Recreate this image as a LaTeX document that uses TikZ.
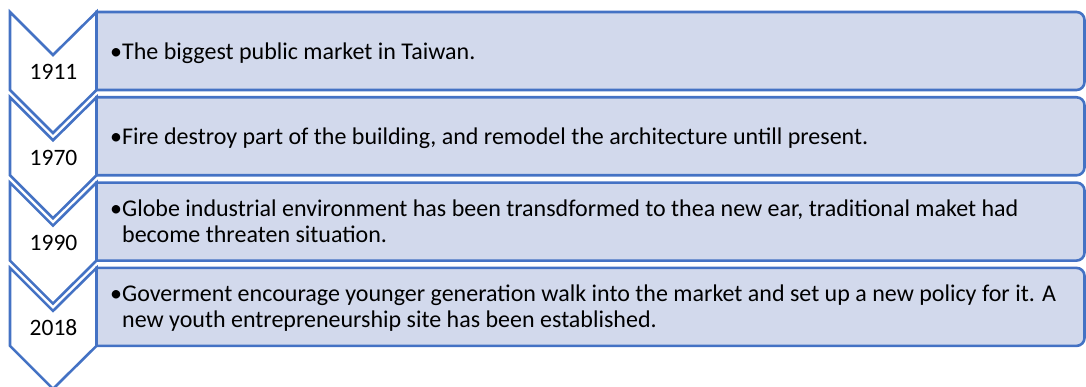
\documentclass[tikz,border=0pt]{standalone}
\usepackage{fontspec}
\setmainfont{Carlito}
\definecolor{chevblue}{HTML}{4472C4}
\definecolor{boxfill}{HTML}{D2D9EC}
\tikzset{
  chev/.style={draw=chevblue, fill=white, line width=2.6pt, line join=miter},
  descbox/.style={draw=chevblue, fill=boxfill, line width=2.6pt},
  yearlbl/.style={font=\fontsize{23.5}{27}\selectfont, text=black, inner sep=0pt, anchor=base},
  desclbl/.style={font=\fontsize{24}{27}\selectfont, text=black, inner sep=0pt, anchor=base west},
}
\newcommand{\bul}{\textbullet}
\newcommand{\ind}{\phantom{\textbullet}}
\begin{document}
\begin{tikzpicture}[x=1pt,y=1pt]
\useasboundingbox (0,0) rectangle (1086,387);
% chevrons (t = top in px from top)
\foreach \t in {12,97.3,182.6,267.9}{
  \pgfmathsetmacro{\T}{387-\t}
  \draw[chev] (10,\T) -- (53,\T-43) -- (96.5,\T) -- (96.5,\T-78) -- (53,\T-121) -- (10,\T-78) -- cycle;
}
% boxes
\foreach \t in {12,97.3,182.6,267.9}{
  \pgfmathsetmacro{\T}{387-\t}
  \pgfmathsetmacro{\B}{387-\t-78}
  \draw[descbox] (96.5,\B) -- (96.5,\T) -- (1076.5,\T) arc[start angle=90,end angle=0,radius=8pt] -- (1084.5,\B+8) arc[start angle=0,end angle=-90,radius=8pt] -- cycle;
}
% years
\node[yearlbl] (y1) at (53.5,387-80) {1911};
\node[yearlbl] (y2) at (53.5,387-165.3) {1970};
\node[yearlbl] (y3) at (53.5,387-250.6) {1990};
\node[yearlbl] (y4) at (53.5,387-336) {2018};
% descriptions
\node[desclbl] (d1) at (110,387-59.3) {\bul The biggest public market in Taiwan.};
\node[desclbl] (d2) at (110,387-144.6) {\bul Fire destroy part of the building, and remodel the architecture untill present.};
\node[desclbl] (d3) at (110,387-216.3) {\bul Globe industrial environment has been transdformed to thea new ear, traditional maket had};
\node[desclbl] (d3b) at (110,387-242.6) {\ind become threaten situation.};
\node[desclbl] (d4) at (110,387-301.6) {\bul Goverment encourage younger generation walk into the market and set up a new policy for it. A};
\node[desclbl] (d4b) at (110,387-327.9) {\ind new youth entrepreneurship site has been established.};
\end{tikzpicture}
\end{document}
